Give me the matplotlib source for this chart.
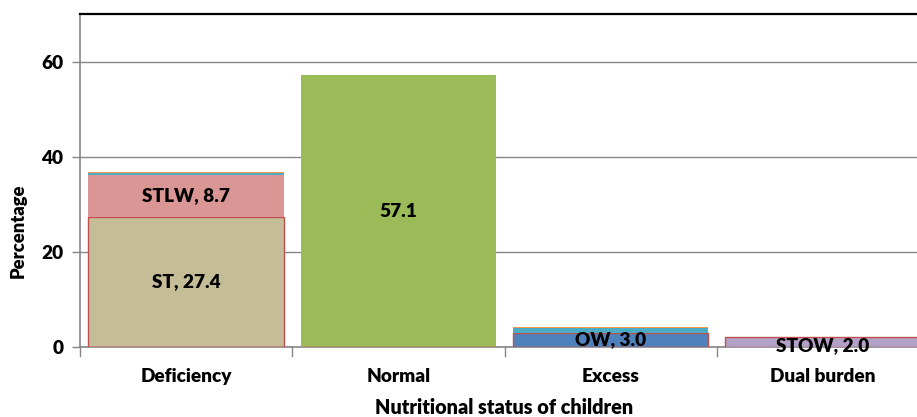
import matplotlib
matplotlib.use("Agg")
import matplotlib.pyplot as plt
import numpy as np

plt.rcParams['font.family'] = ['Lato', 'DejaVu Sans']

categories = ["Deficiency", "Normal", "Excess", "Dual burden"]
st = [27.4, 0, 0, 0]
stlw = [8.7, 0, 0, 0]
normal = [0, 57.1, 0, 0]
ow = [0, 0, 3.0, 0]
stow = [0, 0, 0, 2.0]
minor_teal = [0.4, 0, 1.0, 0]
minor_orange = [0.2, 0, 0.2, 0]

labels = {
    "st": "ST, 27.4",
    "stlw": "STLW, 8.7",
    "normal": "57.1",
    "ow": "OW, 3.0",
    "stow": "STOW, 2.0",
}

fig = plt.figure(figsize=(9.17, 4.17), dpi=100)
ax = fig.add_axes([80/917, 1-347/417, 849/917, (347-14)/417])

x = np.arange(len(categories))
w = 0.92
red = "#C0504D"
fw = "heavy"

st_a = np.array(st); stlw_a = np.array(stlw); nor_a = np.array(normal)
ow_a = np.array(ow); stow_a = np.array(stow)
t_a = np.array(minor_teal); o_a = np.array(minor_orange)

ax.bar(x, st_a, w, color="#C4BD97", edgecolor=red, linewidth=1.0, zorder=3)
ax.bar(x, stlw_a, w, bottom=st_a, color="#D99694", linewidth=0, zorder=3)
ax.bar(x, nor_a, w, color="#9BBB59", linewidth=0, zorder=3)
ax.bar(x, ow_a, w, color="#4F81BD", edgecolor=red, linewidth=1.0, zorder=3)
ax.bar(x, stow_a, w, color="#B3A2C7", edgecolor=red, linewidth=1.0, zorder=3)
base = st_a + stlw_a + nor_a + ow_a + stow_a
ax.bar(x, t_a, w, bottom=base, color="#4BACC6", linewidth=0, zorder=3)
ax.bar(x, o_a, w, bottom=base + t_a, color="#F79646", linewidth=0, zorder=3)

fs = 13.7
ax.text(x[0], st_a[0] / 2, labels["st"], ha="center", va="center", fontsize=fs, fontweight=fw, zorder=5)
ax.text(x[0], st_a[0] + stlw_a[0] / 2, labels["stlw"], ha="center", va="center", fontsize=fs, fontweight=fw, zorder=5)
ax.text(x[1], nor_a[1] / 2, labels["normal"], ha="center", va="center", fontsize=fs, fontweight=fw, zorder=5)
ax.text(x[2], ow_a[2] / 2 + 0.1, labels["ow"], ha="center", va="center", fontsize=fs, fontweight=fw, zorder=5)
ax.text(x[3], stow_a[3] / 2 - 0.6, labels["stow"], ha="center", va="center", fontsize=fs, fontweight=fw, zorder=5)

ax.set_xlim(-0.5, 3.5)
ax.set_ylim(0, 70)
ax.set_yticks([0, 20, 40, 60])
ax.set_yticklabels(["0", "20", "40", "60"], fontsize=fs, fontweight=fw)
ax.yaxis.grid(True, color="#868686", linewidth=1.0, zorder=0)
ax.set_axisbelow(True)

ax.set_xticks(x)
ax.set_xticklabels(categories, fontsize=fs, fontweight=fw)
ax.tick_params(axis="x", length=0, pad=15)
for b in [-0.5, 0.5, 1.5, 2.5]:
    ax.plot([b, b], [0, -1.8], color="#868686", linewidth=1.0, clip_on=False, zorder=2)
ax.tick_params(axis="y", length=6, color="#868686", width=1.0, pad=6)

for s in ["left", "bottom"]:
    ax.spines[s].set_color("#868686")
    ax.spines[s].set_linewidth(1.2)
ax.spines["right"].set_visible(False)
ax.spines["top"].set_color("black")
ax.spines["top"].set_linewidth(1.6)

ax.set_ylabel("Percentage", fontsize=13.2, fontweight=fw)
ax.yaxis.set_label_coords((18 - 80) / 849, (347 - 231) / 333)
ax.yaxis.label.set_va("center")
ax.set_xlabel("Nutritional status of children", fontsize=14.3, fontweight=fw)
ax.xaxis.set_label_coords(0.5, -(408 - 347) / 333)
ax.xaxis.label.set_va("center")

fig.savefig("out.png", dpi=100)
